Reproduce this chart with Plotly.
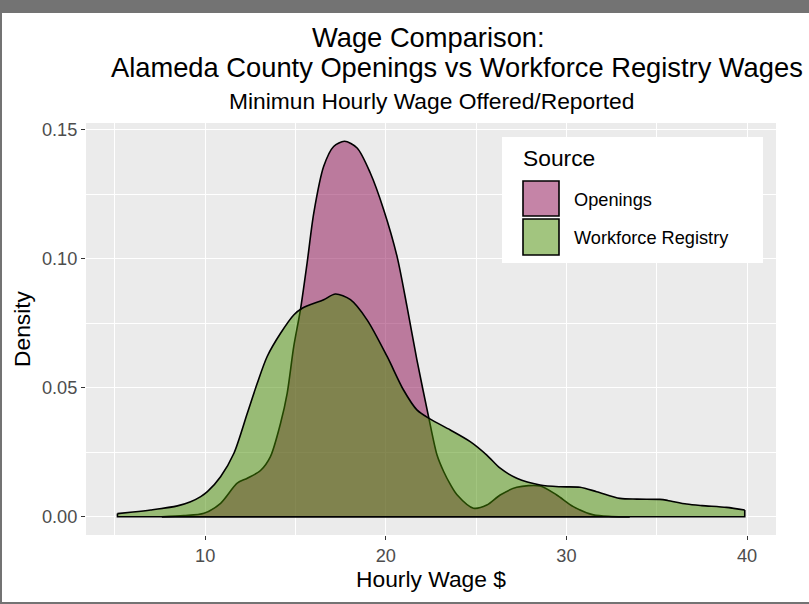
import plotly.graph_objects as go

# ---- data ----
open_x = [7.6, 8.82, 9.93, 10.85, 11.77, 12.33, 13.06, 13.61, 14.17, 14.54, 14.9, 15.27, 15.64,
          16.01, 16.56, 17.11, 17.71, 18.41, 19.14, 19.88, 20.62, 21.17, 21.72, 22.37, 22.83,
          23.2, 23.57, 23.94, 24.85, 25.59, 26.33, 27.25, 28.54, 29.46, 30.38, 31.49, 32.5, 33.5]
open_y = [0.0, 0.0004, 0.0013, 0.0052, 0.013, 0.0149, 0.0179, 0.0233, 0.0362, 0.0479, 0.0659,
          0.0802, 0.0983, 0.1177, 0.1358, 0.1435, 0.1455, 0.1429, 0.1332, 0.119, 0.1009, 0.0815,
          0.0608, 0.0386, 0.024, 0.0175, 0.0125, 0.0085, 0.0033, 0.0045, 0.0084, 0.0114, 0.0119,
          0.0084, 0.0039, 0.0007, 0.0001, 0.0]

work_x = [5.14, 6.0, 6.98, 8.46, 9.19, 9.75, 10.12, 10.85, 11.59, 12.33, 12.88, 13.43, 14.17,
          14.9, 15.37, 16.56, 17.21, 18.04, 18.96, 20.07, 20.98, 21.72, 22.46, 23.57, 24.67,
          25.59, 26.33, 27.25, 28.54, 29.65, 30.75, 31.67, 32.96, 33.9, 35.17, 35.6, 36.65,
          37.5, 38.86, 39.87]
work_y = [0.0012, 0.0018, 0.0026, 0.0042, 0.0058, 0.0078, 0.0097, 0.0155, 0.0246, 0.0401,
          0.0517, 0.0621, 0.0711, 0.0782, 0.0808, 0.0841, 0.0863, 0.0841, 0.0763, 0.0621, 0.0491,
          0.0414, 0.0378, 0.0336, 0.0291, 0.0239, 0.0188, 0.0149, 0.0123, 0.0116, 0.0114, 0.0097,
          0.0071, 0.0068, 0.0067, 0.0063, 0.0049, 0.0043, 0.0036, 0.0026]

series_names = ["Openings", "Workforce Registry"]
fill_colors = ["rgba(139,10,80,0.5)", "rgba(69,139,0,0.5)"]
x_ticks = [10, 20, 30, 40]
y_ticks = [0.0, 0.05, 0.10, 0.15]
y_tick_labels = ["0.00", "0.05", "0.10", "0.15"]

# ---- layout geometry (pixels) ----
W, H = 809, 604
L, R, T, B = 86, 776, 123, 535
PW, PH = R - L, B - T


def px(x):
    return (x - L) / PW


def py(y):
    return (B - y) / PH


FONT = "Liberation Sans, Arial, sans-serif"

fig = go.Figure()

for xs, ys, name, col in [(open_x, open_y, series_names[0], fill_colors[0]),
                          (work_x, work_y, series_names[1], fill_colors[1])]:
    # filled density with its upper outline
    fig.add_trace(go.Scatter(x=xs, y=ys, mode="lines", fill="tozeroy", fillcolor=col,
                             line=dict(color="black", width=1.6, shape="spline", smoothing=0.8),
                             name=name, showlegend=False, hoverinfo="skip"))
    # end edges and baseline of the density polygon
    fig.add_trace(go.Scatter(x=[xs[0], xs[0], xs[-1], xs[-1]], y=[ys[0], 0, 0, ys[-1]],
                             mode="lines", line=dict(color="black", width=1.6),
                             showlegend=False, hoverinfo="skip"))

shapes = []
# gray frame around the picture
frame = "#737373"
shapes.append(dict(type="rect", xref="paper", yref="paper", x0=px(0), x1=px(W), y0=py(13), y1=py(-2),
                   fillcolor=frame, line=dict(width=0), layer="above"))
shapes.append(dict(type="rect", xref="paper", yref="paper", x0=px(-2), x1=px(2), y0=py(W), y1=py(0),
                   fillcolor=frame, line=dict(width=0), layer="above"))
shapes.append(dict(type="rect", xref="paper", yref="paper", x0=px(0), x1=px(W), y0=py(606), y1=py(602),
                   fillcolor=frame, line=dict(width=0), layer="above"))
# legend box
shapes.append(dict(type="rect", xref="paper", yref="paper", x0=px(502), x1=px(763), y0=py(263), y1=py(137),
                   fillcolor="white", line=dict(width=0), layer="above"))
key_rows = [(181, 216), (219, 255)]
for (top, bot), col in zip(key_rows, fill_colors):
    shapes.append(dict(type="rect", xref="paper", yref="paper", x0=px(523), x1=px(559), y0=py(bot), y1=py(top),
                       fillcolor=col, line=dict(color="black", width=1.6), layer="above"))

annotations = []


def ann(text, x, y, size, color="black", angle=0, xanchor="center"):
    annotations.append(dict(text=text, xref="paper", yref="paper", x=px(x), y=py(y), showarrow=False,
                            xanchor=xanchor, yanchor="middle", textangle=angle,
                            font=dict(family=FONT, size=size, color=color)))


ann("Wage Comparison:", 428, 38, 27.3)
ann("Alameda County Openings vs Workforce Registry Wages", 457, 67, 27.3)
ann("Minimun Hourly Wage Offered/Reported", 431, 101, 22.8)
ann("Hourly Wage $", 431, 579, 22.8)
ann("Density", 22, 329, 22.8, angle=-90)
ann("Source", 521, 158, 22.8, xanchor="left")
ann(series_names[0], 572, 200, 18.2, xanchor="left")
ann(series_names[1], 572, 238, 18.2, xanchor="left")

fig.update_layout(
    width=W, height=H,
    margin=dict(l=L, r=W - R, t=T, b=H - B, pad=0),
    paper_bgcolor="white", plot_bgcolor="#EBEBEB",
    font=dict(family=FONT),
    shapes=shapes, annotations=annotations, showlegend=False,
    xaxis=dict(range=[3.4, 41.6], tickvals=x_ticks, ticktext=[str(v) for v in x_ticks],
               showgrid=True, gridcolor="white", gridwidth=1.4, zeroline=False,
               ticks="outside", ticklen=4, tickwidth=1.2, tickcolor="#333333",
               tickfont=dict(family=FONT, size=18.2, color="#4D4D4D"),
               minor=dict(tickvals=[5, 15, 25, 35], showgrid=True, gridcolor="white", gridwidth=0.7, ticks=""),
               showline=False, fixedrange=True),
    yaxis=dict(range=[-0.0071, 0.1526], tickvals=y_ticks, ticktext=y_tick_labels,
               showgrid=True, gridcolor="white", gridwidth=1.4, zeroline=False,
               ticks="outside", ticklen=4, tickwidth=1.2, tickcolor="#333333",
               tickfont=dict(family=FONT, size=18.2, color="#4D4D4D"),
               minor=dict(tickvals=[0.025, 0.075, 0.125], showgrid=True, gridcolor="white", gridwidth=0.7, ticks=""),
               showline=False, fixedrange=True),
)

fig.write_html("out.html", config={"displayModeBar": False},
               post_script="document.body.style.margin='0';document.body.style.overflow='hidden';")
